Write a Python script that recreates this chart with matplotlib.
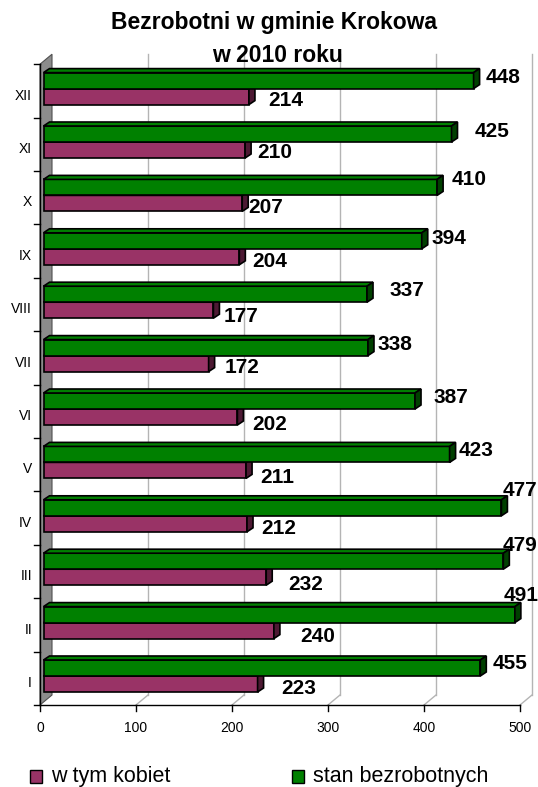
import numpy as np
import matplotlib.pyplot as plt
from matplotlib.patches import Polygon

plt.rcParams['font.family'] = ['Liberation Sans', 'DejaVu Sans']

# Dane: bezrobotni w gminie Krokowa, 2010
miesiace = ["I", "II", "III", "IV", "V", "VI", "VII", "VIII", "IX", "X", "XI", "XII"]
kobiety = [223, 240, 232, 212, 211, 202, 172, 177, 204, 207, 210, 214]
ogolem = [455, 491, 479, 477, 423, 387, 338, 337, 394, 410, 425, 448]
xticks = [0, 100, 200, 300, 400, 500]

# przesuniecia etykiet (piksele): odstep od konca slupka, przesuniecie w pionie
gap_ogolem = [6, -17, -7, -5, 3, 12, 4, 16, 4, 9, 17, 6]
dy_ogolem = [4, 19, 15, 17, 3, 3, 3, 3, 2, 7, 2, 3]
gap_kobiety = [18, 20, 16, 8, 8, 9, 10, 4, 7, 0, 6, 13]
dy_kobiety = [-5, -6, -7, -5, -7, -8, -4, -6, -5, -4, -2, -4]

W, H = 538, 787
PX = 0.96      # piksele na jednostke osi x
BAND = 53.4    # piksele na kategorie
fig = plt.figure(figsize=(W / 100, H / 100), dpi=100)
ax = fig.add_axes([0, 0, 1, 1])
ax.set_xlim(-40 / PX, (W - 40) / PX)
ax.set_ylim((705 - H) / BAND, 705 / BAND)
ax.axis('off')

# glebokosc sciany i slupkow (w jednostkach danych)
DX, DY = 12 / PX, 10 / BAND
bdx, bdy = 6 / PX, 4 / BAND
x_off = 3.5 / PX
n = len(miesiace)
top = n

grid_c = '#b4b4b4'
# sciana boczna
ax.add_patch(Polygon([(0, 0), (DX, DY), (DX, top + DY), (0, top)],
                     closed=True, facecolor='#8c8c8c', edgecolor='#505050', lw=0.8, zorder=1))
# linie siatki na tylnej scianie i na podlodze
for t in xticks[1:]:
    ax.plot([t + DX, t + DX], [DY, top + DY], color=grid_c, lw=1, zorder=0.5)
    ax.plot([t, t + DX], [0, DY], color=grid_c, lw=1, zorder=0.5)
# osie
ax.plot([0, 500], [0, 0], color='black', lw=1, zorder=2)
ax.plot([0, 0], [0, top], color='black', lw=1, zorder=2)
for t in xticks:
    ax.plot([t, t], [0, -6 / BAND], color='black', lw=1, zorder=2)
    ax.text(t, -23 / BAND, str(t), ha='center', va='center', fontsize=10)
for i in range(n + 1):
    ax.plot([-6 / PX, 0], [i, i], color='black', lw=1, zorder=2)
for i, m in enumerate(miesiace):
    ax.text(-8 / PX, i + 22 / BAND, m, ha='right', va='center', fontsize=10)

y = np.arange(n)
p0, p1 = 13 / BAND, 29 / BAND
g1 = 46 / BAND
h = p1 - p0

def rysuj(vals, y0, kolor, bok, zo):
    ax.barh(y + y0, vals, height=h, left=x_off, align='edge',
            color=kolor, edgecolor='black', lw=1.2, zorder=zo)
    for yi, v in zip(y, vals):
        x1 = x_off + v
        ya, yb = yi + y0, yi + y0 + h
        ax.add_patch(Polygon([(x_off, yb), (x_off + bdx, yb + bdy), (x1 + bdx, yb + bdy), (x1, yb)],
                             closed=True, facecolor=kolor, edgecolor='black', lw=1.2, zorder=zo))
        ax.add_patch(Polygon([(x1, ya), (x1 + bdx, ya + bdy), (x1 + bdx, yb + bdy), (x1, yb)],
                             closed=True, facecolor=bok, edgecolor='black', lw=1.2, zorder=zo))

rysuj(kobiety, p0, '#993366', '#4d1933', 3)
rysuj(ogolem, p1, '#008000', '#004000', 4)

for i in range(n):
    ax.annotate(str(ogolem[i]), xy=(x_off + ogolem[i] + bdx, i + (p1 + g1) / 2),
                xytext=(gap_ogolem[i], dy_ogolem[i]), textcoords='offset pixels',
                ha='left', va='center', fontsize=15, fontweight='bold', zorder=6)
    ax.annotate(str(kobiety[i]), xy=(x_off + kobiety[i] + bdx, i + (p0 + p1) / 2),
                xytext=(gap_kobiety[i], dy_kobiety[i]), textcoords='offset pixels',
                ha='left', va='center', fontsize=15, fontweight='bold', zorder=6)

# tytul
fig.text(274 / W, 1 - 23 / H, "Bezrobotni w gminie Krokowa", ha='center', va='center',
         fontsize=16.5, fontweight='bold')
fig.text(277 / W, 1 - 55 / H, "w 2010 roku", ha='center', va='center',
         fontsize=16.5, fontweight='bold')

# legenda
for x0, kolor, napis in [(30, '#993366', "w tym kobiet"), (292, '#008000', "stan bezrobotnych")]:
    fig.patches.append(plt.Rectangle((x0 / W, (H - 783) / H), 12 / W, 13 / H,
                                     transform=fig.transFigure, facecolor=kolor,
                                     edgecolor='black', lw=1))
    fig.text((x0 + 21) / W, (H - 782) / H, napis, ha='left', va='baseline', fontsize=15.5)

fig.savefig('out.png', dpi=100)
